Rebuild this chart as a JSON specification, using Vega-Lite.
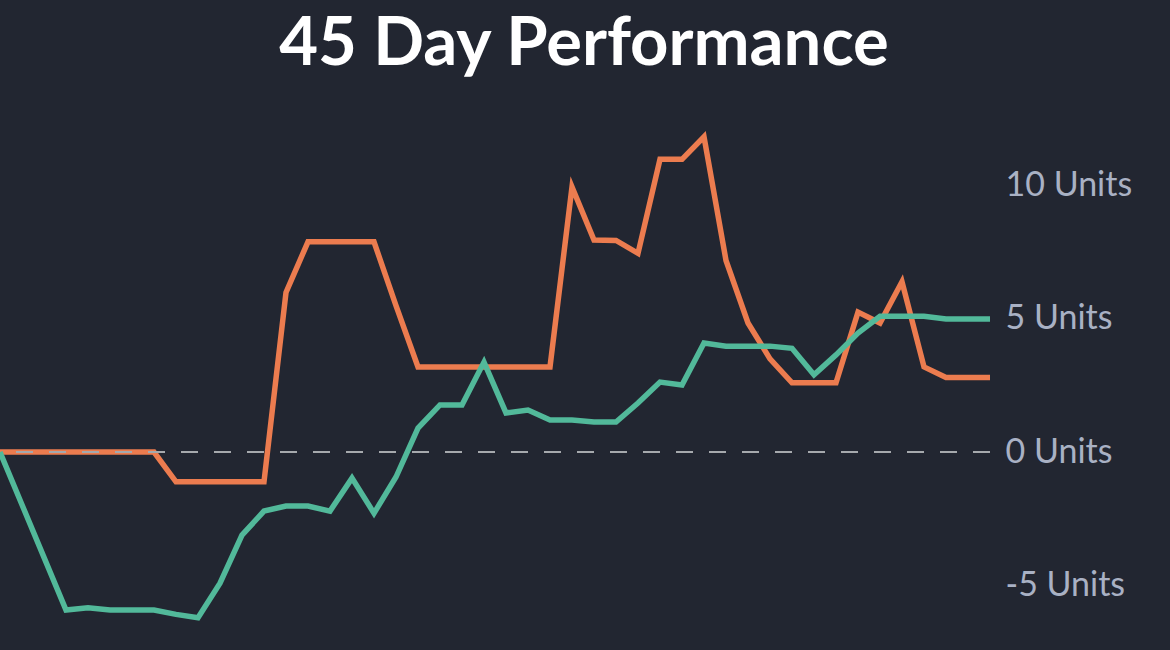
{
  "$schema": "https://vega.github.io/schema/vega-lite/v6.json",
  "autosize": "none",
  "width": 990,
  "height": 550,
  "padding": {"top": 100, "left": 0, "right": 180, "bottom": 0},
  "background": "#222631",
  "config": {"view": {"stroke": null}},
  "title": {
    "text": "45 Day Performance",
    "font": "Lato",
    "fontSize": 67,
    "fontWeight": "bold",
    "color": "#ffffff",
    "anchor": "middle",
    "frame": "group",
    "baseline": "alphabetic",
    "offset": 37,
    "dx": 89,
    "dy": 69
  },
  "data": {
    "values": [
      {"day": 0, "series": "A", "value": 0},
      {"day": 1, "series": "A", "value": 0},
      {"day": 2, "series": "A", "value": 0},
      {"day": 3, "series": "A", "value": 0},
      {"day": 4, "series": "A", "value": 0},
      {"day": 5, "series": "A", "value": 0},
      {"day": 6, "series": "A", "value": 0},
      {"day": 7, "series": "A", "value": 0},
      {"day": 8, "series": "A", "value": -1.12},
      {"day": 9, "series": "A", "value": -1.12},
      {"day": 10, "series": "A", "value": -1.12},
      {"day": 11, "series": "A", "value": -1.12},
      {"day": 12, "series": "A", "value": -1.12},
      {"day": 13, "series": "A", "value": 6.0},
      {"day": 14, "series": "A", "value": 7.9},
      {"day": 15, "series": "A", "value": 7.9},
      {"day": 16, "series": "A", "value": 7.9},
      {"day": 17, "series": "A", "value": 7.9},
      {"day": 18, "series": "A", "value": 5.5},
      {"day": 19, "series": "A", "value": 3.2},
      {"day": 20, "series": "A", "value": 3.2},
      {"day": 21, "series": "A", "value": 3.2},
      {"day": 22, "series": "A", "value": 3.2},
      {"day": 23, "series": "A", "value": 3.2},
      {"day": 24, "series": "A", "value": 3.2},
      {"day": 25, "series": "A", "value": 3.2},
      {"day": 26, "series": "A", "value": 9.96},
      {"day": 27, "series": "A", "value": 7.97},
      {"day": 28, "series": "A", "value": 7.95},
      {"day": 29, "series": "A", "value": 7.47},
      {"day": 30, "series": "A", "value": 11.0},
      {"day": 31, "series": "A", "value": 11.0},
      {"day": 32, "series": "A", "value": 11.85},
      {"day": 33, "series": "A", "value": 7.2},
      {"day": 34, "series": "A", "value": 4.85},
      {"day": 35, "series": "A", "value": 3.5},
      {"day": 36, "series": "A", "value": 2.6},
      {"day": 37, "series": "A", "value": 2.6},
      {"day": 38, "series": "A", "value": 2.6},
      {"day": 39, "series": "A", "value": 5.26},
      {"day": 40, "series": "A", "value": 4.85},
      {"day": 41, "series": "A", "value": 6.4},
      {"day": 42, "series": "A", "value": 3.2},
      {"day": 43, "series": "A", "value": 2.8},
      {"day": 44, "series": "A", "value": 2.8},
      {"day": 45, "series": "A", "value": 2.8},
      {"day": 0, "series": "B", "value": 0},
      {"day": 1, "series": "B", "value": -1.98},
      {"day": 2, "series": "B", "value": -3.96},
      {"day": 3, "series": "B", "value": -5.94},
      {"day": 4, "series": "B", "value": -5.85},
      {"day": 5, "series": "B", "value": -5.94},
      {"day": 6, "series": "B", "value": -5.94},
      {"day": 7, "series": "B", "value": -5.94},
      {"day": 8, "series": "B", "value": -6.1},
      {"day": 9, "series": "B", "value": -6.23},
      {"day": 10, "series": "B", "value": -4.93},
      {"day": 11, "series": "B", "value": -3.12},
      {"day": 12, "series": "B", "value": -2.22},
      {"day": 13, "series": "B", "value": -2.03},
      {"day": 14, "series": "B", "value": -2.03},
      {"day": 15, "series": "B", "value": -2.22},
      {"day": 16, "series": "B", "value": -0.98},
      {"day": 17, "series": "B", "value": -2.3},
      {"day": 18, "series": "B", "value": -0.94},
      {"day": 19, "series": "B", "value": 0.9},
      {"day": 20, "series": "B", "value": 1.77},
      {"day": 21, "series": "B", "value": 1.77},
      {"day": 22, "series": "B", "value": 3.38},
      {"day": 23, "series": "B", "value": 1.47},
      {"day": 24, "series": "B", "value": 1.58},
      {"day": 25, "series": "B", "value": 1.2},
      {"day": 26, "series": "B", "value": 1.2},
      {"day": 27, "series": "B", "value": 1.13},
      {"day": 28, "series": "B", "value": 1.13},
      {"day": 29, "series": "B", "value": 1.84},
      {"day": 30, "series": "B", "value": 2.63},
      {"day": 31, "series": "B", "value": 2.52},
      {"day": 32, "series": "B", "value": 4.1},
      {"day": 33, "series": "B", "value": 3.98},
      {"day": 34, "series": "B", "value": 3.98},
      {"day": 35, "series": "B", "value": 3.98},
      {"day": 36, "series": "B", "value": 3.9},
      {"day": 37, "series": "B", "value": 2.9},
      {"day": 38, "series": "B", "value": 3.65},
      {"day": 39, "series": "B", "value": 4.47},
      {"day": 40, "series": "B", "value": 5.1},
      {"day": 41, "series": "B", "value": 5.1},
      {"day": 42, "series": "B", "value": 5.1},
      {"day": 43, "series": "B", "value": 5.0},
      {"day": 44, "series": "B", "value": 5.0},
      {"day": 45, "series": "B", "value": 5.0}
    ]
  },
  "layer": [
    {
      "mark": {"type": "line", "strokeWidth": 5.5, "strokeJoin": "miter", "strokeCap": "butt"},
      "encoding": {
        "x": {"field": "day", "type": "quantitative", "scale": {"domain": [0, 45], "nice": false, "zero": false}, "axis": null},
        "y": {
          "field": "value",
          "type": "quantitative",
          "scale": {"domain": [-7.44, 13.23], "nice": false, "zero": false},
          "axis": {
            "orient": "right",
            "values": [-5, 0, 5, 10],
            "labelExpr": "datum.value + ' Units'",
            "domain": false,
            "ticks": false,
            "grid": false,
            "labelFont": "Lato",
            "labelFontSize": 34,
            "labelColor": "#a9b1c4",
            "labelPadding": 15,
            "labelBaseline": "middle",
            "title": null
          }
        },
        "color": {
          "field": "series",
          "type": "nominal",
          "scale": {"domain": ["A", "B"], "range": ["#ec7c4f", "#52b99a"]},
          "legend": null
        },
        "order": {"field": "day", "type": "quantitative"}
      }
    },
    {
      "mark": {"type": "rule", "stroke": "#a7a9ad", "strokeWidth": 1.5, "strokeDash": [17, 16]},
      "encoding": {"y": {"datum": 0, "type": "quantitative"}}
    }
  ]
}
